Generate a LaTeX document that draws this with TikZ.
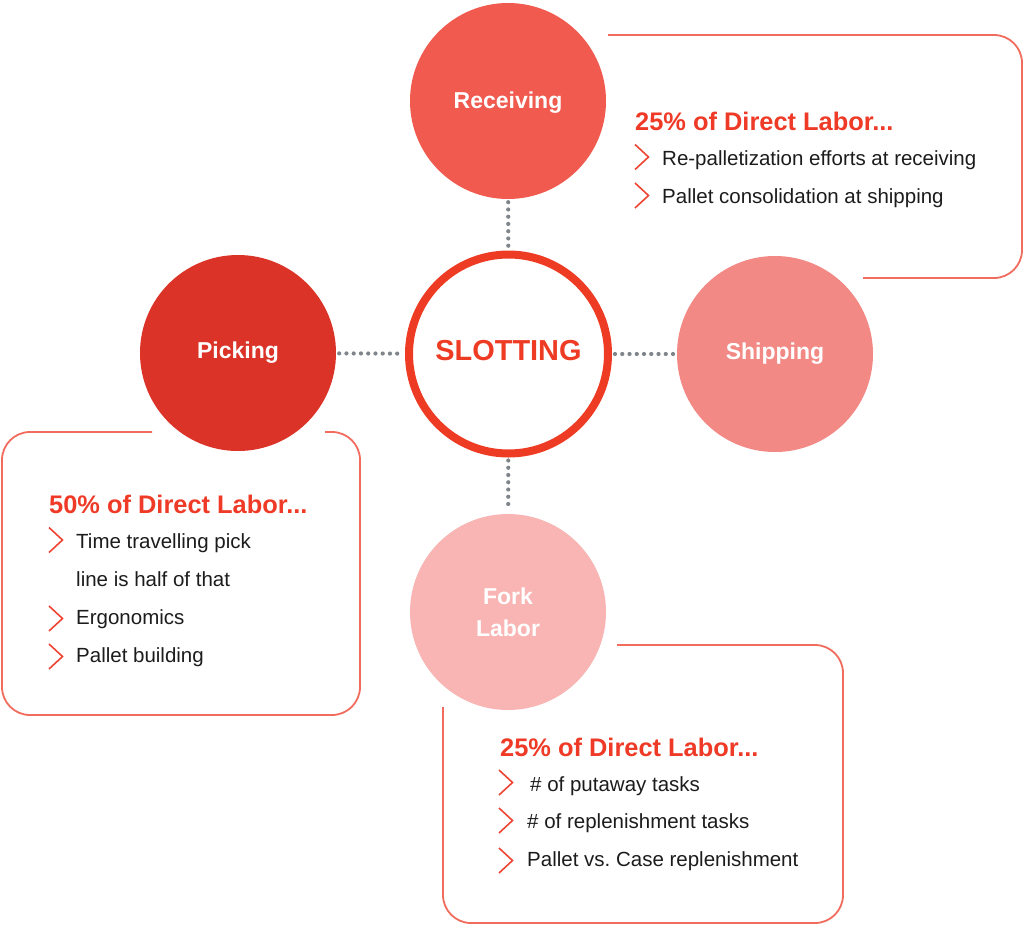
\documentclass[tikz,border=0pt]{standalone}
\usepackage{fontspec}
\setmainfont{Liberation Sans}
\frenchspacing
\definecolor{recvc}{HTML}{F05A4F}
\definecolor{pickc}{HTML}{DB3327}
\definecolor{shipc}{HTML}{F38985}
\definecolor{forkc}{HTML}{F8B5B3}
\definecolor{slotc}{HTML}{EE3B24}
\definecolor{hdred}{HTML}{EE3A26}
\definecolor{boxred}{HTML}{F26C5E}
\definecolor{chevred}{HTML}{EE4433}
\definecolor{dotgray}{HTML}{7F858A}
\definecolor{ink}{HTML}{1C1C1C}
\tikzset{
  stage/.style={circle, minimum size=196pt, inner sep=0pt, text=white,
    font=\fontsize{23}{32.4}\selectfont\bfseries, text height=16.5pt, text depth=4.8pt},
  hub/.style={circle, minimum size=199pt, inner sep=0pt, draw=slotc, line width=8pt,
    fill=white, text=slotc, font=\fontsize{28.9}{34}\selectfont\bfseries,
    text height=20.7pt, text depth=8pt},
  dotline/.style={draw=dotgray, line width=4.2pt, line cap=round,
    dash pattern=on 0pt off 7.25pt, shorten <=3pt, shorten >=3pt},
  boxline/.style={draw=boxred, line width=1.8pt, rounded corners=28pt},
  head/.style={anchor=base west, inner sep=0pt, text=hdred,
    font=\fontsize{25.4}{30}\selectfont\bfseries},
  item/.style={anchor=base west, inner sep=0pt, text=ink,
    font=\fontsize{20.5}{24}\selectfont},
  chevron/.pic={\draw[chevred, line width=1.6pt] (0,-12.5) -- (13.5,0) -- (0,12.5);}
}
\begin{document}
\begin{tikzpicture}[x=1pt,y=-1pt]
\useasboundingbox (0,0) rectangle (1024,926);

% frames
\draw[boxline] (608,35) -- (1022,35) -- (1022,278) -- (863,278);
\draw[boxline] (152,432) -- (2,432) -- (2,715) -- (360,715) -- (360,432) -- (325,432);
\draw[boxline] (443,707) -- (443,923) -- (843,923) -- (843,645) -- (617,645);

% circles
\node[stage, fill=recvc] (recv) at (508,101) {\raisebox{-2pt}{Receiving}};
\node[stage, fill=pickc] (pick) at (238,353) {Picking};
\node[stage, fill=shipc] (ship) at (775,354) {Shipping};
\node[stage, fill=forkc, align=center, text height=, text depth=] (fork) at (508,612) {Fork\\Labor};
\node[hub] (slot) at (508.5,354) {SLOTTING};

% connectors
\draw[dotline] (pick) -- (slot);
\draw[dotline] (slot) -- (ship);
\draw[dotline] (recv) -- (slot);
\draw[dotline] (slot) -- (fork);

% top right text
\node[head] (h1) at (635,130) {25\% of Direct Labor...};
\pic at (635,157) {chevron};
\node[item] (t1) at (662,165.5) {Re-palletization efforts at receiving};
\pic at (635,195.5) {chevron};
\node[item] (t2) at (662,203.3) {Pallet consolidation at shipping};

% left text
\node[head] (h2) at (49,513.3) {50\% of Direct Labor...};
\pic at (49,540) {chevron};
\node[item] (l1) at (76,548.3) {Time travelling pick};
\node[item] (l2) at (76,586.7) {line is half of that};
\pic at (49,618.5) {chevron};
\node[item] (l3) at (76,624.5) {Ergonomics};
\pic at (49,656.5) {chevron};
\node[item] (l4) at (76,662.3) {Pallet building};

% bottom text
\node[head] (h3) at (500,756) {25\% of Direct Labor...};
\pic at (499,782.5) {chevron};
\node[item] (b1) at (530,791) {\# of putaway tasks};
\pic at (499,820.5) {chevron};
\node[item] (b2) at (527,828.7) {\# of replenishment tasks};
\pic at (499,860.5) {chevron};
\node[item] (b3) at (527,866) {Pallet vs. Case replenishment};
\end{tikzpicture}
\end{document}
